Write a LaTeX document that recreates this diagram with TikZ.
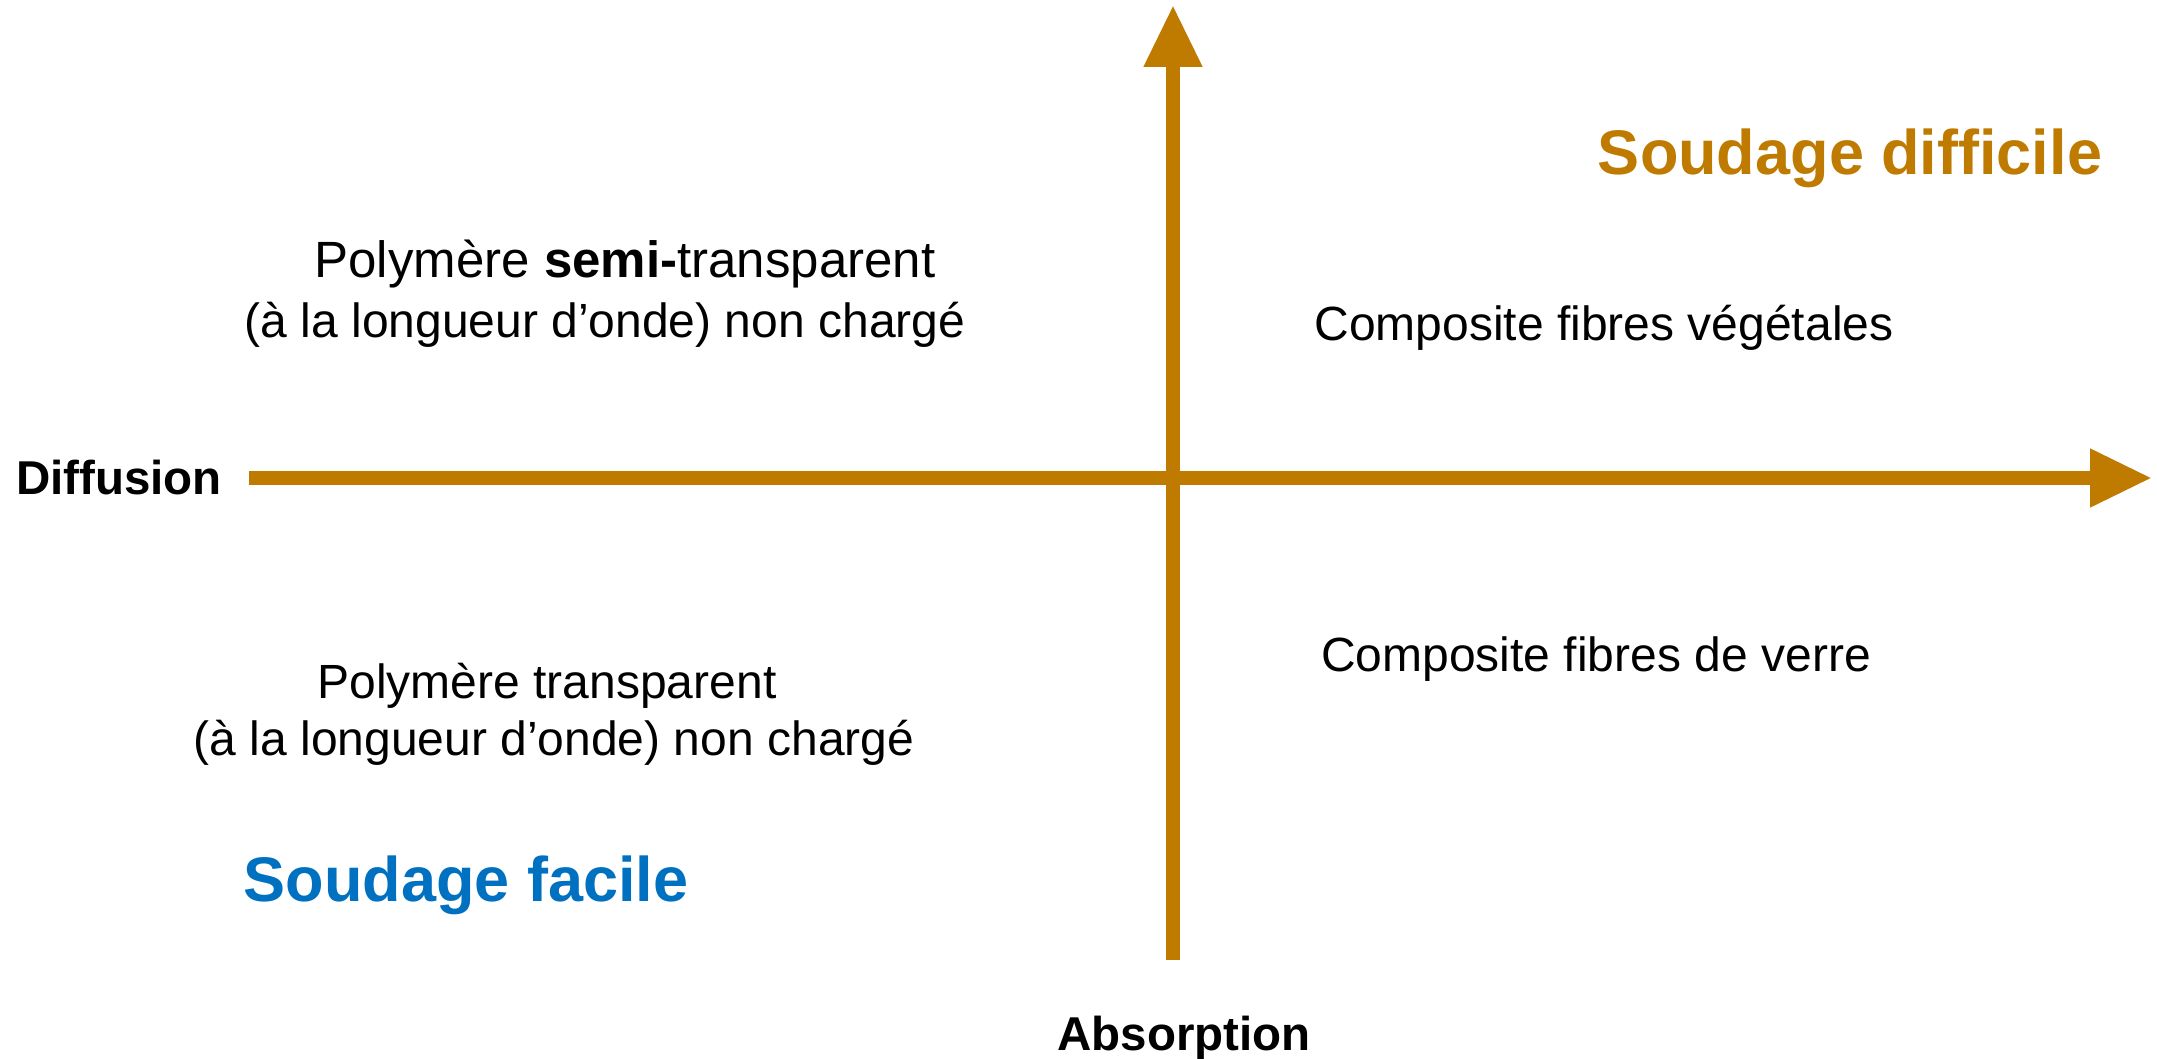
\documentclass[tikz,border=0pt]{standalone}
\usepackage{fontspec}
\setmainfont{Liberation Sans}
\usetikzlibrary{arrows.meta}
\definecolor{axisgold}{RGB}{191,122,0}
\definecolor{easyblue}{RGB}{0,112,192}
\begin{document}
\begin{tikzpicture}[x=1pt,y=-1pt,
  axis/.style={draw=axisgold, line width=14pt, -{Triangle[length=62pt,width=55pt]}},
  body/.style={font=\fontsize{48}{58}\selectfont, anchor=base, inner sep=0pt},
  axislabel/.style={font=\fontsize{47.5}{56}\selectfont\bfseries, anchor=base, inner sep=0pt},
  verdict/.style={font=\fontsize{63}{76}\selectfont\bfseries, anchor=base, inner sep=0pt}]
\useasboundingbox (0,0) rectangle (2157,1059);

% axes
\coordinate (hstart) at (249,478);
\coordinate (hend) at (2152,478);
\coordinate (vstart) at (1173,960);
\coordinate (vend) at (1173,5);
\draw[axis] (hstart) -- (hend);
\draw[axis] (vstart) -- (vend);

% axis labels
\node[axislabel] (diffusion) at (119,494) {Diffusion};
\node[axislabel] (absorption) at (1184,1050) {Absorption};

% verdicts
\node[verdict, text=axisgold] (difficile) at (1850,175) {Soudage difficile};
\node[verdict, text=easyblue] (facile) at (466,901) {Soudage facile};

% quadrant contents
\node[body, font=\fontsize{51}{60}\selectfont] (tla) at (625,277) {Polymère \textbf{semi-}transparent};
\node[body] (tlb) at (605,337) {(à la longueur d’onde) non chargé};
\node[body] (tr) at (1604,340) {Composite fibres végétales};
\node[body] (bla) at (547,698) {Polymère transparent};
\node[body] (blb) at (554,755) {(à la longueur d’onde) non chargé};
\node[body] (br) at (1596,671) {Composite fibres de verre};
\end{tikzpicture}
\end{document}
